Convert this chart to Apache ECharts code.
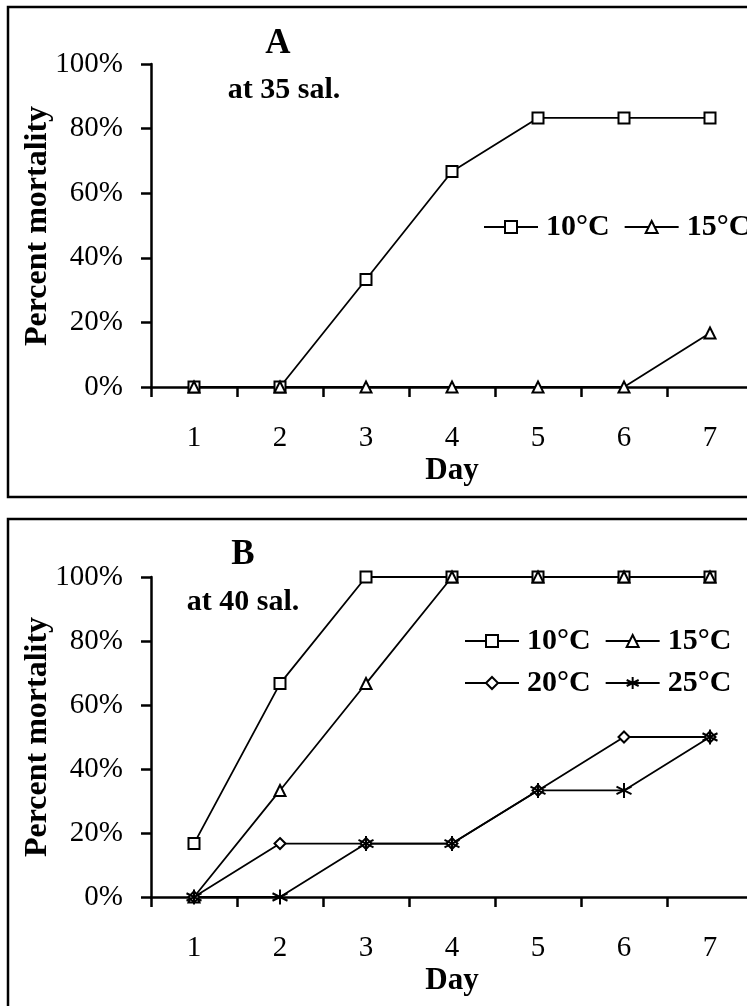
<!DOCTYPE html>
<html>
<head>
<meta charset="utf-8">
<script src="https://cdn.jsdelivr.net/npm/echarts@6/dist/echarts.min.js"></script>
<style>
  html, body { margin: 0; padding: 0; background: #fff; overflow: hidden; }
  #chart { width: 770px; height: 1020px; }
</style>
</head>
<body>
<div id="chart"></div>
<script>
// days on the x axis
const days = ['1', '2', '3', '4', '5', '6', '7'];
const tempNames = ['10°C', '15°C', '20°C', '25°C'];
const yTitle = 'Percent mortality';

// panel A, at 35 sal.
const a10 = [0, 0, 33.3, 66.7, 83.3, 83.3, 83.3];
const a15 = [0, 0, 0, 0, 0, 0, 16.7];

// panel B, at 40 sal.
const b10 = [16.7, 66.7, 100, 100, 100, 100, 100];
const b15 = [0, 33.3, 66.7, 100, 100, 100, 100];
const b20 = [0, 16.7, 16.7, 16.7, 33.3, 50, 50];
const b25 = [0, 0, 16.7, 16.7, 33.3, 33.3, 50];

const font = '"Liberation Serif", "Times New Roman", serif';
const star = 'path://M5,0L5,10M0.7,2.5L9.3,7.5M0.7,7.5L9.3,2.5';
const symbols = ['emptyRect', 'emptyTriangle', 'emptyDiamond', star];

function xAxisOf(i) {
  return {
    type: 'category', gridIndex: i, data: days, boundaryGap: true,
    name: 'Day', nameLocation: 'middle', nameGap: 68,
    nameTextStyle: { fontFamily: font, fontWeight: 'bold', fontSize: 31, color: '#000' },
    axisLine: { lineStyle: { color: '#000', width: 2.5 } },
    axisTick: { show: true, interval: 0, alignWithLabel: false, length: 10, lineStyle: { color: '#000', width: 2.5 } },
    axisLabel: { margin: 37, fontFamily: font, fontSize: 29, color: '#000' }
  };
}
function yAxisOf(i) {
  return {
    type: 'value', gridIndex: i, min: 0, max: 100, interval: 20,
    splitLine: { show: false },
    axisLine: { show: true, lineStyle: { color: '#000', width: 2.5 } },
    axisTick: { show: true, length: 10, lineStyle: { color: '#000', width: 2.5 } },
    axisLabel: { margin: 28, fontFamily: font, fontSize: 29, color: '#000', formatter: '{value}%' }
  };
}
function line(name, data, k, i) {
  return {
    name: name, type: 'line', data: data, xAxisIndex: i, yAxisIndex: i,
    symbol: symbols[k], symbolSize: k === 3 ? 15 : 11,
    lineStyle: { color: '#000', width: 1.8 },
    itemStyle: { color: '#000', borderColor: '#000', borderWidth: 2 },
    animation: false
  };
}
const legendText = { fontFamily: font, fontWeight: 'bold', fontSize: 30, color: '#000', padding: [0, 0, 0, 3] };
function legendOf(names, left, top) {
  return {
    data: names, left: left, top: top, orient: 'horizontal',
    itemWidth: 54, itemHeight: 15, itemGap: 14, padding: 0,
    textStyle: legendText, selectedMode: false
  };
}
function label(text, x, y, size, rot) {
  return {
    type: 'text', x: x, y: y, rotation: rot || 0,
    style: { text: text, font: 'bold ' + size + 'px ' + font, fill: '#000', textAlign: 'center', textVerticalAlign: 'middle' }
  };
}

const chart = echarts.init(document.getElementById('chart'), null, { renderer: 'canvas' });
chart.setOption({
  backgroundColor: '#fff',
  animation: false,
  grid: [
    { left: 151, top: 64, width: 602, height: 323 },
    { left: 151, top: 577, width: 602, height: 320 }
  ],
  xAxis: [xAxisOf(0), xAxisOf(1)],
  yAxis: [yAxisOf(0), yAxisOf(1)],
  legend: [
    legendOf([tempNames[0], tempNames[1]], 483, 212),
    legendOf([tempNames[0], tempNames[1]], 464, 626),
    legendOf([tempNames[2], tempNames[3]], 464, 668)
  ],
  series: [
    line(tempNames[0], a10, 0, 0),
    line(tempNames[1], a15, 1, 0),
    line(tempNames[0], b10, 0, 1),
    line(tempNames[1], b15, 1, 1),
    line(tempNames[2], b20, 2, 1),
    line(tempNames[3], b25, 3, 1)
  ],
  graphic: [
    { type: 'rect', shape: { x: 8, y: 7, width: 800, height: 490 }, style: { fill: 'none', stroke: '#000', lineWidth: 2.5 } },
    { type: 'rect', shape: { x: 8, y: 519, width: 800, height: 510 }, style: { fill: 'none', stroke: '#000', lineWidth: 2.5 } },
    label('A', 278, 44, 35),
    label('at 35 sal.', 284, 90, 30),
    label('B', 243, 555, 35),
    label('at 40 sal.', 243, 602, 30),
    label(yTitle, 38, 226, 32, Math.PI / 2),
    label(yTitle, 38, 737, 32, Math.PI / 2)
  ]
});
</script>
</body>
</html>
